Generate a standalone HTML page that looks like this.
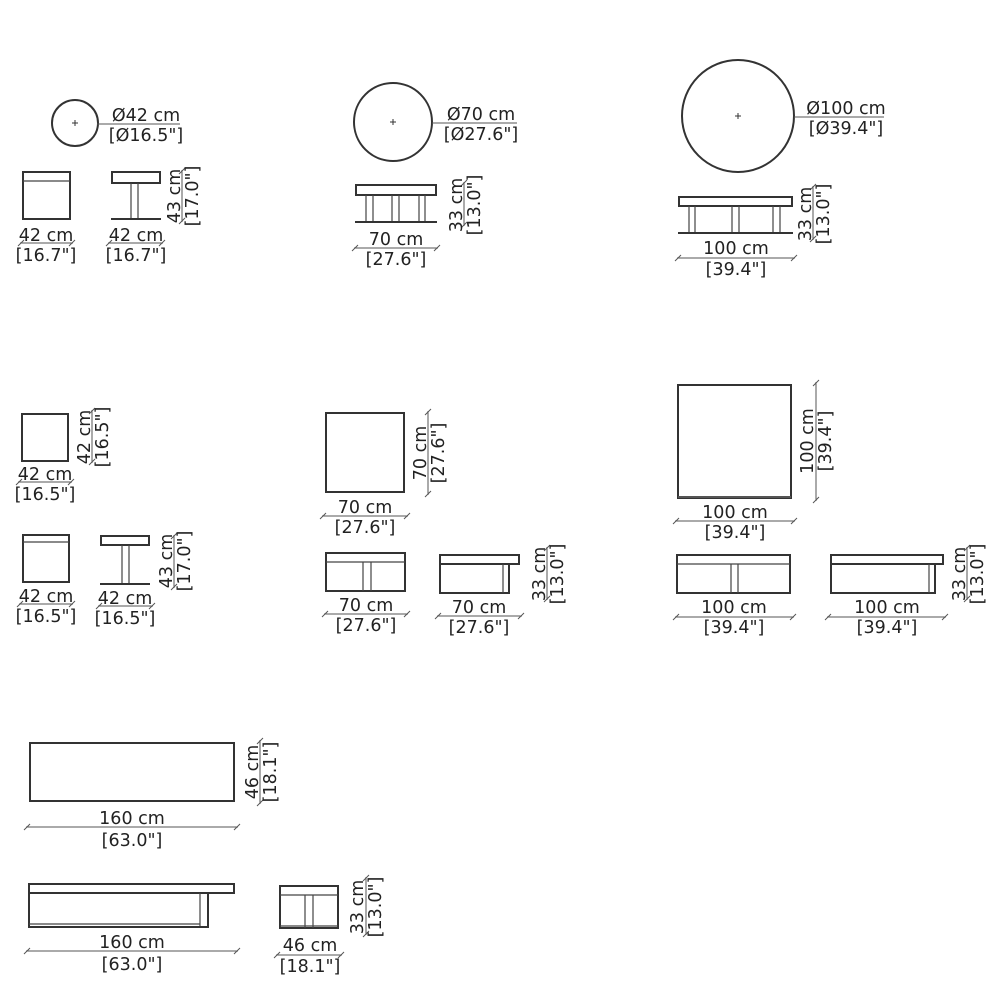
<!DOCTYPE html>
<html><head><meta charset="utf-8"><style>
html,body{margin:0;padding:0;background:#fff}
svg{display:block}
text{font-family:"DejaVu Sans","Liberation Sans",sans-serif;font-size:17.5px;fill:#222;text-anchor:middle}
.o{fill:none;stroke:#333;stroke-width:2}
.t{fill:none;stroke:#444;stroke-width:1.2}
.d{stroke:#555;stroke-width:1}
</style></head><body>
<svg width="1000" height="1000" viewBox="0 0 1000 1000" xmlns="http://www.w3.org/2000/svg">
<defs>
<g id="tk"><line x1="-3" y1="3" x2="3" y2="-3" stroke="#555" stroke-width="1"/></g>
</defs>

<!-- ===== Row 1 ===== -->
<circle cx="75" cy="123" r="23" class="o"/>
<path d="M72 123h6M75 120v6" stroke="#333" stroke-width="1"/>
<line x1="97" y1="124" x2="180" y2="124" class="d"/>
<text x="146" y="121">Ø42 cm</text><text x="146" y="141">[Ø16.5"]</text>

<rect x="23" y="172" width="47" height="47" class="o"/><line x1="23" y1="181" x2="70" y2="181" class="t"/>
<line x1="20" y1="243" x2="73" y2="243" class="d"/><use href="#tk" x="21" y="243"/><use href="#tk" x="72" y="243"/>
<text x="46" y="241">42 cm</text><text x="46" y="261">[16.7"]</text>

<rect x="112" y="172" width="48" height="11" class="o"/>
<path d="M131 183v36M138 183v36" class="t"/>
<line x1="111" y1="219" x2="161" y2="219" stroke="#333" stroke-width="2"/>
<line x1="108" y1="243" x2="163" y2="243" class="d"/><use href="#tk" x="109" y="243"/><use href="#tk" x="162" y="243"/>
<text x="136" y="241">42 cm</text><text x="136" y="261">[16.7"]</text>
<line x1="182" y1="170" x2="182" y2="222" class="d"/><use href="#tk" x="182" y="171"/><use href="#tk" x="182" y="221"/>
<text transform="translate(180,196) rotate(-90)">43 cm</text>
<text transform="translate(198,196) rotate(-90)">[17.0"]</text>

<circle cx="393" cy="122" r="39" class="o"/>
<path d="M390 122h6M393 119v6" stroke="#333" stroke-width="1"/>
<line x1="432" y1="123" x2="517" y2="123" class="d"/>
<text x="481" y="120">Ø70 cm</text><text x="481" y="140">[Ø27.6"]</text>
<rect x="356" y="185" width="80" height="10" class="o"/>
<path d="M366 195v27M373 195v27M392 195v27M399 195v27M419 195v27M425 195v27" class="t"/>
<line x1="355" y1="222" x2="437" y2="222" stroke="#333" stroke-width="2"/>
<line x1="354" y1="248" x2="438" y2="248" class="d"/><use href="#tk" x="355" y="248"/><use href="#tk" x="437" y="248"/>
<text x="396" y="245">70 cm</text><text x="396" y="265">[27.6"]</text>
<line x1="464" y1="182" x2="464" y2="226" class="d"/><use href="#tk" x="464" y="183"/><use href="#tk" x="464" y="225"/>
<text transform="translate(462,205) rotate(-90)">33 cm</text>
<text transform="translate(480,205) rotate(-90)">[13.0"]</text>

<circle cx="738" cy="116" r="56" class="o"/>
<path d="M735 116h6M738 113v6" stroke="#333" stroke-width="1"/>
<line x1="794" y1="117" x2="884" y2="117" class="d"/>
<text x="846" y="114">Ø100 cm</text><text x="846" y="134">[Ø39.4"]</text>
<rect x="679" y="197" width="113" height="9" class="o"/>
<path d="M689 206v27M695 206v27M732 206v27M739 206v27M773 206v27M780 206v27" class="t"/>
<line x1="678" y1="233" x2="793" y2="233" stroke="#333" stroke-width="2"/>
<line x1="677" y1="258" x2="795" y2="258" class="d"/><use href="#tk" x="678" y="258"/><use href="#tk" x="794" y="258"/>
<text x="736" y="254">100 cm</text><text x="736" y="275">[39.4"]</text>
<line x1="813" y1="186" x2="813" y2="240" class="d"/><use href="#tk" x="813" y="187"/><use href="#tk" x="813" y="239"/>
<text transform="translate(811,214) rotate(-90)">33 cm</text>
<text transform="translate(829,214) rotate(-90)">[13.0"]</text>

<!-- ===== Row 2 ===== -->
<rect x="22" y="414" width="46" height="47" class="o"/>
<line x1="92" y1="410" x2="92" y2="463" class="d"/><use href="#tk" x="92" y="411"/><use href="#tk" x="92" y="462"/>
<text transform="translate(90,437) rotate(-90)">42 cm</text>
<text transform="translate(108,437) rotate(-90)">[16.5"]</text>
<line x1="18" y1="482" x2="72" y2="482" class="d"/><use href="#tk" x="19" y="482"/><use href="#tk" x="71" y="482"/>
<text x="45" y="480">42 cm</text><text x="45" y="500">[16.5"]</text>

<rect x="23" y="535" width="46" height="47" class="o"/><line x1="23" y1="542" x2="69" y2="542" class="t"/>
<line x1="19" y1="604" x2="73" y2="604" class="d"/><use href="#tk" x="20" y="604"/><use href="#tk" x="72" y="604"/>
<text x="46" y="602">42 cm</text><text x="46" y="622">[16.5"]</text>

<rect x="101" y="536" width="48" height="9" class="o"/>
<path d="M122 545v39M129 545v39" class="t"/>
<line x1="100" y1="584" x2="150" y2="584" stroke="#333" stroke-width="2"/>
<line x1="98" y1="606" x2="153" y2="606" class="d"/><use href="#tk" x="99" y="606"/><use href="#tk" x="152" y="606"/>
<text x="125" y="604">42 cm</text><text x="125" y="624">[16.5"]</text>
<line x1="174" y1="535" x2="174" y2="588" class="d"/><use href="#tk" x="174" y="536"/><use href="#tk" x="174" y="587"/>
<text transform="translate(172,561) rotate(-90)">43 cm</text>
<text transform="translate(190,561) rotate(-90)">[17.0"]</text>

<rect x="326" y="413" width="78" height="79" class="o"/>
<line x1="428" y1="411" x2="428" y2="495" class="d"/><use href="#tk" x="428" y="412"/><use href="#tk" x="428" y="494"/>
<text transform="translate(426,453) rotate(-90)">70 cm</text>
<text transform="translate(444,453) rotate(-90)">[27.6"]</text>
<line x1="322" y1="516" x2="408" y2="516" class="d"/><use href="#tk" x="323" y="516"/><use href="#tk" x="407" y="516"/>
<text x="365" y="513">70 cm</text><text x="365" y="533">[27.6"]</text>

<rect x="326" y="553" width="79" height="38" class="o"/><line x1="326" y1="562" x2="405" y2="562" class="t"/>
<path d="M363 562v29M371 562v29" class="t"/>
<line x1="324" y1="614" x2="408" y2="614" class="d"/><use href="#tk" x="325" y="614"/><use href="#tk" x="407" y="614"/>
<text x="366" y="611">70 cm</text><text x="366" y="631">[27.6"]</text>

<rect x="440" y="555" width="79" height="9" class="o"/>
<rect x="440" y="564" width="69" height="29" class="o"/><line x1="503" y1="564" x2="503" y2="593" class="t"/>
<line x1="437" y1="616" x2="522" y2="616" class="d"/><use href="#tk" x="438" y="616"/><use href="#tk" x="521" y="616"/>
<text x="479" y="613">70 cm</text><text x="479" y="633">[27.6"]</text>
<line x1="547" y1="547" x2="547" y2="600" class="d"/><use href="#tk" x="547" y="548"/><use href="#tk" x="547" y="599"/>
<text transform="translate(545,574) rotate(-90)">33 cm</text>
<text transform="translate(563,574) rotate(-90)">[13.0"]</text>

<rect x="678" y="385" width="113" height="113" class="o"/><line x1="678" y1="497" x2="791" y2="497" stroke="#555" stroke-width="2"/>
<line x1="816" y1="382" x2="816" y2="501" class="d"/><use href="#tk" x="816" y="383"/><use href="#tk" x="816" y="500"/>
<text transform="translate(813,441) rotate(-90)">100 cm</text>
<text transform="translate(831,441) rotate(-90)">[39.4"]</text>
<line x1="675" y1="521" x2="795" y2="521" class="d"/><use href="#tk" x="676" y="521"/><use href="#tk" x="794" y="521"/>
<text x="735" y="518">100 cm</text><text x="735" y="538">[39.4"]</text>

<rect x="677" y="555" width="113" height="38" class="o"/><line x1="677" y1="564" x2="790" y2="564" class="t"/>
<path d="M731 564v29M738 564v29" class="t"/>
<line x1="675" y1="617" x2="794" y2="617" class="d"/><use href="#tk" x="676" y="617"/><use href="#tk" x="793" y="617"/>
<text x="734" y="613">100 cm</text><text x="734" y="633">[39.4"]</text>

<rect x="831" y="555" width="112" height="9" class="o"/>
<rect x="831" y="564" width="104" height="29" class="o"/><line x1="929" y1="564" x2="929" y2="593" class="t"/>
<line x1="827" y1="617" x2="946" y2="617" class="d"/><use href="#tk" x="828" y="617"/><use href="#tk" x="945" y="617"/>
<text x="887" y="613">100 cm</text><text x="887" y="633">[39.4"]</text>
<line x1="967" y1="547" x2="967" y2="600" class="d"/><use href="#tk" x="967" y="548"/><use href="#tk" x="967" y="599"/>
<text transform="translate(965,574) rotate(-90)">33 cm</text>
<text transform="translate(983,574) rotate(-90)">[13.0"]</text>

<!-- ===== Row 3 ===== -->
<rect x="30" y="743" width="204" height="58" class="o"/>
<line x1="260" y1="740" x2="260" y2="804" class="d"/><use href="#tk" x="260" y="741"/><use href="#tk" x="260" y="803"/>
<text transform="translate(258,772) rotate(-90)">46 cm</text>
<text transform="translate(276,772) rotate(-90)">[18.1"]</text>
<line x1="26" y1="827" x2="238" y2="827" class="d"/><use href="#tk" x="27" y="827"/><use href="#tk" x="237" y="827"/>
<text x="132" y="824">160 cm</text><text x="132" y="846">[63.0"]</text>

<rect x="29" y="884" width="205" height="9" class="o"/>
<rect x="29" y="893" width="179" height="34" class="o"/>
<line x1="200" y1="893" x2="200" y2="926" class="t"/><line x1="29" y1="924" x2="200" y2="924" class="t"/>
<line x1="26" y1="951" x2="238" y2="951" class="d"/><use href="#tk" x="27" y="951"/><use href="#tk" x="237" y="951"/>
<text x="132" y="948">160 cm</text><text x="132" y="970">[63.0"]</text>

<rect x="280" y="886" width="58" height="42" class="o"/><line x1="280" y1="895" x2="338" y2="895" class="t"/>
<path d="M305 895v33M313 895v33" class="t"/><line x1="280" y1="926" x2="338" y2="926" class="t"/>
<line x1="276" y1="955" x2="342" y2="955" class="d"/><use href="#tk" x="277" y="955"/><use href="#tk" x="341" y="955"/>
<text x="310" y="951">46 cm</text><text x="310" y="972">[18.1"]</text>
<line x1="366" y1="877" x2="366" y2="935" class="d"/><use href="#tk" x="366" y="878"/><use href="#tk" x="366" y="934"/>
<text transform="translate(363,907) rotate(-90)">33 cm</text>
<text transform="translate(381,907) rotate(-90)">[13.0"]</text>
</svg>
</body></html>
